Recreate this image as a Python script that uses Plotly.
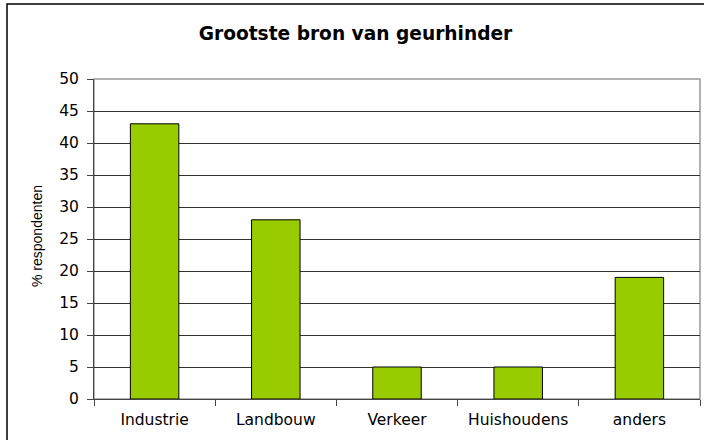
import plotly.graph_objects as go

categories = ["Industrie", "Landbouw", "Verkeer", "Huishoudens", "anders"]
values = [43, 28, 5, 5, 19]
y_ticks = [0, 5, 10, 15, 20, 25, 30, 35, 40, 45, 50]

W, H = 704, 440
L, R, T, B = 94, 4, 79, 41
pw, ph = W - L - R, H - T - B

fig = go.Figure()
fig.add_trace(go.Bar(
    x=categories, y=values,
    marker=dict(color="#99cc00", line=dict(color="#000000", width=1)),
))

def px_x(p):
    return (p - L) / pw

def px_y(p):
    return (H - B - p) / ph

FONT = "DejaVu Sans"

fig.update_layout(
    width=W, height=H,
    margin=dict(l=L, r=R, t=T, b=B, autoexpand=False),
    paper_bgcolor="white", plot_bgcolor="white",
    font=dict(family=FONT, color="black", size=15),
    title=dict(text="<b>Grootste bron van geurhinder</b>", x=355.5 / W, xref="container",
               xanchor="center", y=1 - 33 / H, yref="container", yanchor="middle",
               font=dict(size=18.6, family=FONT)),
    showlegend=False,
    bargap=0.6,
    xaxis=dict(
        showgrid=False, showline=True, linecolor="#444", linewidth=1,
        ticks="outside", ticklen=6, tickcolor="#444", tickson="boundaries",
        tickfont=dict(size=15.5), mirror=False, automargin=False,
        ticklabelstandoff=6,
    ),
    yaxis=dict(
        range=[0, 50], tickvals=y_ticks, showgrid=True, gridcolor="#333", gridwidth=1,
        showline=True, linecolor="#444", linewidth=1, ticks="outside", ticklen=6,
        tickcolor="#444", tickfont=dict(size=15.5), zeroline=False, automargin=False,
        ticklabelstandoff=5,
    ),
    annotations=[
        dict(text="% respondenten", xref="paper", yref="paper",
             x=px_x(37), y=px_y(236), xanchor="center", yanchor="middle",
             textangle=-90, showarrow=False,
             font=dict(size=14, family="Liberation Sans, Arial")),
    ],
    shapes=[
        dict(type="rect", xref="paper", yref="paper", x0=0, x1=1, y0=0, y1=1,
             line=dict(color="#999", width=1.5), fillcolor="rgba(0,0,0,0)", layer="below"),
        dict(type="rect", xref="paper", yref="paper",
             x0=px_x(7), x1=px_x(720), y0=px_y(460), y1=px_y(4),
             line=dict(color="black", width=1.5), fillcolor="rgba(0,0,0,0)"),
    ],
)

fig.write_html("out.html", config={"displayModeBar": False},
               post_script="document.body.style.margin='0';document.body.style.overflow='hidden';")
